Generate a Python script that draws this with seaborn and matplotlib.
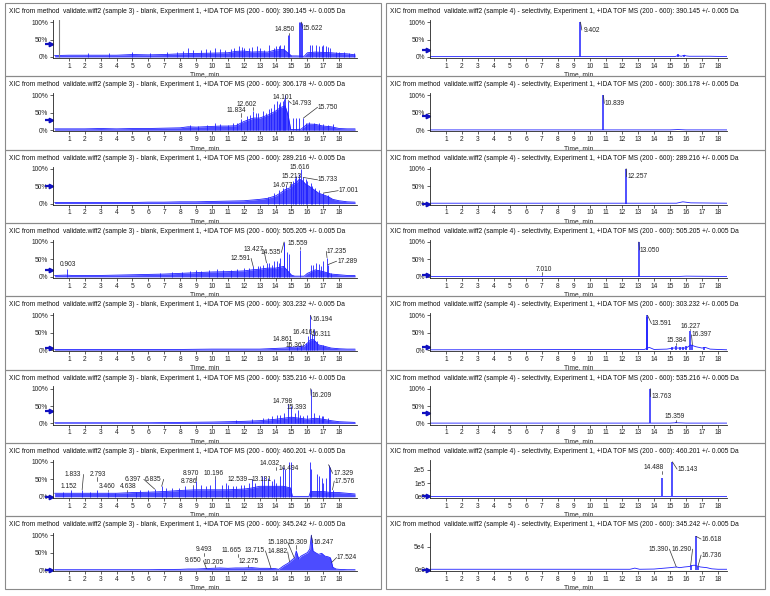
import numpy as np
import matplotlib
matplotlib.use("Agg")
import matplotlib.pyplot as plt
import seaborn as sns
from matplotlib.patches import Rectangle

# m/z of each extracted ion, one per row (same for both samples)
MZ = ["390.145", "306.178", "289.216", "505.205", "303.232", "535.216", "460.201", "345.242"]
TITLE = [
    "XIC from method  validate.wiff2 (sample 3) - blank, Experiment 1, +IDA TOF MS (200 - 600): {mz} +/- 0.005 Da",
    "XIC from method  validate.wiff2 (sample 4) - selectivity, Experiment 1, +IDA TOF MS (200 - 600): {mz} +/- 0.005 Da",
]

# ---- traces: baseline knots (time, intensity) ----
BASE_T = {
    "L1": [0.1, 1, 2, 3, 4, 5, 6, 7, 8, 9, 10, 11, 11.5, 12, 12.5, 13, 13.5, 14, 14.5, 15, 15.3, 15.8, 16, 16.5, 17, 17.5, 18, 18.5, 19],
    "L2": [0.1, 1, 2, 3, 4, 5, 6, 7, 8, 8.5, 9, 9.5, 10, 10.5, 11, 11.5, 12, 12.3, 12.6, 13, 13.3, 13.6, 14, 14.3, 14.6, 14.8, 14.95, 15.2, 15.6, 16, 16.5, 17, 17.5, 18, 18.5, 19],
    "L3": [0.1, 1, 2, 3, 4, 5, 6, 7, 8, 9, 10, 11, 12, 12.5, 13, 13.5, 14, 14.3, 14.6, 14.9, 15.1, 15.3, 15.5, 15.7, 15.9, 16.1, 16.4, 16.7, 17, 17.3, 17.6, 18, 18.5, 19],
    "L4": [0.1, 0.8, 1.2, 2, 3, 4, 5, 6, 7, 8, 9, 9.5, 10, 11, 12, 12.5, 13, 13.5, 14, 14.5, 15, 15.2, 15.8, 16.0, 16.5, 17, 17.5, 18, 18.5, 19],
    "L5": [0.1, 2, 4, 6, 8, 10, 12, 13, 13.5, 14, 14.5, 15, 15.5, 15.8, 16.0, 16.2, 16.4, 16.7, 17, 17.5, 18, 18.5, 19],
    "L6": [0.1, 2, 4, 6, 8, 10, 11, 12, 13, 13.5, 14, 14.5, 15, 15.5, 16, 16.5, 17, 17.5, 18, 18.5, 19],
    "L7": [0.1, 1, 2, 3, 4, 5, 6, 7, 8, 9, 10, 11, 12, 12.5, 13, 13.5, 14, 14.5, 14.95, 15.05, 16.1, 16.2, 17, 17.5, 18, 18.5, 19],
    "L8": [0.1, 2, 4, 6, 8, 8.5, 9, 9.5, 10, 10.5, 11, 11.5, 12, 12.5, 13, 13.5, 14, 14.2, 14.5, 14.8, 15, 15.2, 15.3, 15.45, 15.6, 15.8, 16, 16.15, 16.25, 16.35, 16.5, 16.7, 16.9, 17.1, 17.3, 17.45, 17.6, 17.8, 18, 18.5, 19],
    "R1": [0, 9.3, 9.5, 15.3, 15.5, 15.7, 15.9, 16.0, 16.2, 17.5, 18.6],
    "R2": [0, 10.7, 11.0, 15.0, 15.5, 16.0, 18.6],
    "R3": [0, 12.1, 12.4, 15.4, 15.8, 16.3, 18.6],
    "R4": [0, 12.9, 13.2, 15.5, 16.0, 18.6],
    "R5": [0, 13.4, 13.7, 14.0, 14.8, 15.2, 16.0, 16.3, 16.6, 17.0, 17.2, 17.5, 18.0, 18.6],
    "R6": [0, 13.6, 13.9, 15.0, 15.4, 16.0, 18.6],
    "R7": [0, 14.4, 14.6, 15.0, 15.3, 18.6],
    "R8": [0, 12.5, 12.8, 13.1, 14.0, 14.5, 15.0, 15.4, 15.6, 15.9, 16.2, 16.5, 16.9, 17.3, 17.6, 18.0, 18.6],
}
BASE_Y = {
    "L1": [0.04, 0.05, 0.05, 0.05, 0.05, 0.07, 0.06, 0.07, 0.09, 0.10, 0.11, 0.12, 0.16, 0.17, 0.14, 0.15, 0.14, 0.20, 0.22, 0.03, 0.03, 0.02, 0.12, 0.14, 0.13, 0.12, 0.10, 0.09, 0.06],
    "L2": [0.04, 0.04, 0.04, 0.05, 0.04, 0.05, 0.05, 0.06, 0.07, 0.10, 0.09, 0.10, 0.11, 0.12, 0.12, 0.13, 0.25, 0.30, 0.35, 0.35, 0.40, 0.45, 0.55, 0.65, 0.70, 0.40, 0.02, 0.02, 0.03, 0.18, 0.17, 0.12, 0.10, 0.05, 0.04, 0.04],
    "L3": [0.03, 0.03, 0.03, 0.03, 0.03, 0.03, 0.04, 0.04, 0.05, 0.05, 0.06, 0.07, 0.08, 0.10, 0.12, 0.15, 0.22, 0.30, 0.40, 0.45, 0.55, 0.60, 0.70, 0.65, 0.55, 0.50, 0.40, 0.30, 0.25, 0.20, 0.12, 0.08, 0.05, 0.04],
    "L4": [0.04, 0.05, 0.04, 0.04, 0.04, 0.05, 0.06, 0.07, 0.08, 0.10, 0.12, 0.13, 0.14, 0.15, 0.17, 0.20, 0.22, 0.25, 0.25, 0.30, 0.05, 0.02, 0.02, 0.10, 0.20, 0.15, 0.08, 0.06, 0.04, 0.04],
    "L5": [0.02, 0.02, 0.02, 0.02, 0.02, 0.03, 0.03, 0.03, 0.04, 0.05, 0.06, 0.08, 0.10, 0.12, 0.20, 0.30, 0.30, 0.15, 0.12, 0.06, 0.04, 0.03, 0.03],
    "L6": [0.02, 0.02, 0.02, 0.02, 0.03, 0.04, 0.05, 0.06, 0.08, 0.10, 0.12, 0.15, 0.18, 0.15, 0.12, 0.15, 0.12, 0.08, 0.05, 0.04, 0.03],
    "L7": [0.10, 0.10, 0.10, 0.10, 0.10, 0.12, 0.13, 0.15, 0.18, 0.20, 0.20, 0.20, 0.22, 0.25, 0.30, 0.30, 0.30, 0.30, 0.25, 0.01, 0.01, 0.15, 0.15, 0.12, 0.12, 0.10, 0.08],
    "L8": [0.01, 0.01, 0.01, 0.01, 0.02, 0.03, 0.03, 0.04, 0.05, 0.06, 0.05, 0.06, 0.06, 0.07, 0.05, 0.05, 0.04, 0.02, 0.12, 0.20, 0.28, 0.35, 0.55, 0.32, 0.40, 0.45, 0.50, 0.60, 1.00, 0.55, 0.50, 0.45, 0.48, 0.40, 0.38, 0.35, 0.08, 0.03, 0.02, 0.01, 0.01],
    "R1": [0.01, 0.01, 0.01, 0.01, 0.04, 0.02, 0.05, 0.03, 0.02, 0.02, 0.01],
    "R2": [0.01, 0.01, 0.01, 0.01, 0.02, 0.01, 0.01],
    "R3": [0.01, 0.01, 0.01, 0.01, 0.05, 0.02, 0.01],
    "R4": [0.01, 0.01, 0.01, 0.01, 0.02, 0.01],
    "R5": [0.01, 0.02, 0.08, 0.02, 0.03, 0.06, 0.06, 0.15, 0.10, 0.06, 0.08, 0.03, 0.02, 0.01],
    "R6": [0.01, 0.01, 0.01, 0.01, 0.02, 0.01, 0.01],
    "R7": [0.01, 0.01, 0.01, 0.01, 0.01, 0.01],
    "R8": [0.1, 0.1, 0.35, 0.1, 0.15, 0.3, 0.45, 0.6, 0.45, 0.6, 0.7, 1.0, 0.6, 0.45, 0.2, 0.1, 0.1],
}

# ---- narrow peaks / noise spikes (time, height) ----
SPIKE_T = {
    "L1": [2.2, 3.5, 5.0, 6.1, 7.2, 7.8, 8.2, 8.5, 8.8, 9.3, 9.6, 9.9, 10.2, 10.5, 10.8, 11.2, 11.4, 11.7, 11.9, 12.0, 12.3, 12.5, 12.8, 13.0, 13.3, 13.6, 13.9, 14.0, 14.2, 14.3, 14.55,
           14.75, 14.85, 15.45, 15.52, 15.6, 15.68, 16.15, 16.3, 16.55, 16.75, 16.9, 17.0, 17.2, 17.3, 17.45, 17.8, 18.0, 18.3, 18.6, 18.9],
    "L2": [8.6, 9.1, 9.7, 10.2, 10.5, 11.0, 11.3, 11.6, 11.83, 12.2, 12.4, 12.6, 12.75, 12.9, 13.2, 13.4, 13.6, 13.7, 13.9, 14.1, 14.2, 14.3, 14.45, 14.5, 14.6, 14.79,
           15.1, 15.3, 15.5, 15.75, 15.9, 16.1, 16.4, 16.7, 17.0, 17.3, 17.6],
    "L3": [13.5, 13.9, 14.2, 14.45, 14.68, 15.0, 15.1, 15.21, 15.3, 15.45, 15.62, 15.73, 15.9, 16.0, 16.2, 16.3, 16.5, 16.7, 17.0, 17.3],
    "L4": [0.9, 6.7, 7.5, 8.1, 8.6, 9.0, 9.3, 9.8, 10.3, 10.7, 11.2, 11.6, 12.0, 12.3, 12.59, 12.9, 13.0, 13.2, 13.43, 13.6, 13.75, 13.9, 14.1, 14.2, 14.3, 14.5, 14.54, 14.7, 14.85,
           15.56, 16.2, 16.35, 16.55, 16.7, 16.85, 17.0, 17.24, 17.29, 17.5],
    "L5": [14.86, 15.37, 15.6, 15.9, 16.05, 16.19, 16.31, 16.42, 16.6, 17.0],
    "L6": [11.5, 12.5, 13.2, 13.5, 13.8, 14.1, 14.3, 14.5, 14.8, 15.0, 15.2, 15.39, 15.55, 15.7, 16.0, 16.21, 16.4, 16.7, 16.9, 17.0, 17.3],
    "L7": [0.6, 1.15, 1.83, 2.3, 2.79, 3.46, 3.9, 4.64, 5.2, 5.5, 6.0, 6.4, 6.84, 7.1, 7.5, 7.9, 8.3, 8.79, 8.97, 9.3, 9.6, 9.9, 10.2, 10.6, 10.9, 11.0, 11.3, 11.5, 11.8, 12.0,
           12.3, 12.54, 12.7, 13.13, 13.3, 13.5, 13.8, 13.9, 14.03, 14.3, 14.49, 14.6, 14.85, 14.95, 16.15, 16.25, 16.6, 16.75, 16.9, 17.0, 17.15, 17.33, 17.4, 17.58],
    "L8": [],
    "R1": [9.40, 15.5, 15.9],
    "R2": [10.84],
    "R3": [12.26],
    "R4": [7.01, 13.05],
    "R5": [13.55, 13.59, 15.1, 15.38, 15.6, 15.8, 16.0, 16.23, 16.4, 17.1],
    "R6": [13.76, 15.36],
    "R7": [14.49, 15.14],
    "R8": [16.29, 16.62, 16.74],
}
SPIKE_H = {
    "L1": [0.1, 0.1, 0.13, 0.12, 0.14, 0.15, 0.18, 0.25, 0.2, 0.2, 0.22, 0.2, 0.25, 0.22, 0.2, 0.22, 0.25, 0.3, 0.28, 0.25, 0.25, 0.28, 0.3, 0.25, 0.2, 0.35, 0.25, 0.3, 0.3, 0.35, 0.35,
           0.62, 0.62, 1.0, 1.0, 1.0, 0.98, 0.35, 0.33, 0.35, 0.32, 0.3, 0.33, 0.3, 0.28, 0.25, 0.15, 0.15, 0.15, 0.12, 0.12],
    "L2": [0.15, 0.12, 0.15, 0.2, 0.18, 0.15, 0.2, 0.22, 0.32, 0.4, 0.45, 0.55, 0.5, 0.5, 0.55, 0.5, 0.6, 0.65, 0.75, 0.85, 0.75, 0.8, 0.85, 0.9, 1.0, 0.85,
           0.35, 0.35, 0.35, 0.35, 0.2, 0.25, 0.22, 0.2, 0.18, 0.15, 0.18],
    "L3": [0.2, 0.3, 0.4, 0.45, 0.5, 0.6, 0.65, 0.72, 0.8, 0.85, 1.0, 0.75, 0.7, 0.65, 0.6, 0.5, 0.45, 0.4, 0.3, 0.25],
    "L4": [0.22, 0.12, 0.14, 0.15, 0.18, 0.2, 0.18, 0.2, 0.22, 0.2, 0.2, 0.22, 0.25, 0.25, 0.3, 0.3, 0.3, 0.35, 0.4, 0.4, 0.35, 0.45, 0.45, 0.4, 0.55, 0.95, 1.0, 0.7, 0.65,
           0.78, 0.33, 0.33, 0.4, 0.38, 0.3, 0.45, 0.55, 0.35, 0.12],
    "L5": [0.12, 0.1, 0.15, 0.2, 0.4, 1.0, 0.45, 0.6, 0.25, 0.15],
    "L6": [0.1, 0.12, 0.15, 0.15, 0.2, 0.25, 0.25, 0.3, 0.55, 0.5, 0.3, 0.4, 0.25, 0.2, 0.25, 1.0, 0.3, 0.25, 0.2, 0.2, 0.15],
    "L7": [0.15, 0.2, 0.2, 0.15, 0.2, 0.15, 0.12, 0.12, 0.15, 0.18, 0.2, 0.22, 0.3, 0.25, 0.25, 0.25, 0.3, 0.3, 0.45, 0.35, 0.3, 0.35, 0.5, 0.35, 0.4, 0.35, 0.3, 0.3, 0.35, 0.35,
           0.4, 0.5, 0.4, 0.6, 0.6, 0.55, 0.45, 0.5, 0.4, 0.6, 0.85, 0.8, 1.0, 1.0, 1.0, 0.8, 0.65, 0.6, 0.55, 0.4, 0.55, 0.92, 0.85, 0.2],
    "L8": [],
    "R1": [1.0, 0.08, 0.06],
    "R2": [1.0],
    "R3": [1.0],
    "R4": [0.02, 1.0],
    "R5": [0.95, 1.0, 0.08, 0.12, 0.1, 0.1, 0.12, 0.55, 0.15, 0.08],
    "R6": [1.0, 0.03],
    "R7": [1.4, 2.6],      # x 1e5 counts
    "R8": [1.0, 7.3, 0.6],  # x 1e4 counts
}

# ---- labelled retention times ----
LABEL_RT = {
    "L1": [14.850, 15.622],
    "L2": [11.834, 12.602, 14.101, 14.793, 15.750],
    "L3": [14.677, 15.213, 15.616, 15.733, 17.001],
    "L4": [0.903, 12.591, 13.427, 14.535, 15.559, 17.235, 17.289],
    "L5": [14.861, 15.367, 16.416, 16.311, 16.194],
    "L6": [14.798, 15.393, 16.209],
    "L7": [1.152, 1.833, 2.793, 3.460, 4.638, 6.397, 6.835, 8.786, 8.970, 10.196, 12.539, 13.131, 14.032, 14.494, 17.329, 17.576],
    "L8": [9.493, 9.650, 10.205, 11.665, 12.275, 13.715, 14.882, 15.180, 15.309, 16.247, 17.524],
    "R1": [9.402],
    "R2": [10.839],
    "R3": [12.257],
    "R4": [7.010, 13.050],
    "R5": [13.591, 15.384, 16.227, 16.397],
    "R6": [13.763, 15.359],
    "R7": [14.488, 15.143],
    "R8": [15.390, 16.290, 16.618, 16.736],
}

# ---- styling / placement ----
LABEL_XY = {
    "L1": [(14.55, 0.78), (16.35, 0.82)],
    "L2": [(11.5, 0.57), (12.2, 0.74), (14.45, 0.94), (15.65, 0.77), (17.3, 0.66)],
    "L3": [(14.45, 0.52), (15.0, 0.78), (15.5, 1.02), (17.3, 0.68), (18.6, 0.37)],
    "L4": [(0.97, 0.35), (11.8, 0.53), (12.6, 0.78), (13.7, 0.7), (15.4, 0.95), (17.85, 0.73), (18.5, 0.45)],
    "L5": [(14.45, 0.3), (15.25, 0.13), (15.7, 0.5), (16.9, 0.45), (16.95, 0.88)],
    "L6": [(14.45, 0.62), (15.35, 0.45), (16.9, 0.8)],
    "L7": [(1.0, 0.29), (1.26, 0.64), (2.8, 0.64), (3.4, 0.29), (4.7, 0.29), (5.05, 0.5), (6.3, 0.5), (8.55, 0.43), (8.7, 0.67), (10.1, 0.67), (11.6, 0.5), (13.1, 0.5), (13.65, 0.94), (14.8, 0.8), (18.25, 0.67), (18.35, 0.45)],
    "L8": [(9.5, 0.59), (8.8, 0.27), (10.1, 0.22), (11.25, 0.55), (12.3, 0.24), (12.7, 0.55), (14.1, 0.52), (14.1, 0.8), (15.4, 0.8), (17.0, 0.78), (18.5, 0.36)],
    "R1": [(10.15, 0.77)],
    "R2": [(11.55, 0.77)],
    "R3": [(12.95, 0.77)],
    "R4": [(7.1, 0.22), (13.75, 0.77)],
    "R5": [(14.5, 0.76), (15.4, 0.28), (16.3, 0.68), (17.0, 0.44)],
    "R6": [(14.45, 0.77), (15.3, 0.2)],
    "R7": [(14.0, 2.15), (16.1, 2.05)],
    "R8": [(14.3, 4.5), (15.75, 4.5), (17.6, 6.7), (17.6, 3.2)],
}
ARROW_Y = {
    "L1": 0.37, "L2": 0.3, "L3": 0.5, "L4": 0.2, "L5": 0.05, "L6": 0.35, "L7": 0.0, "L8": 0.0,
    "R1": 0.2, "R2": 0.4, "R3": 0.0, "R4": 0.05, "R5": 0.1, "R6": 0.3, "R7": 0.0, "R8": 0.0,
}
YLIM = {"R7": (-0.1, 2.75), "R8": (-0.3, 8.0)}
YTICKS = {"R7": ([0, 1, 2], ["0e0", "1e5", "2e5"]), "R8": ([0, 5], ["0e0", "5e4"])}
PCT_TICKS = ([0, 0.5, 1.0], ["0%", "50%", "100%"])

W, H = 770, 596
BLUE = "#1f1fff"
FRAME = "#8a8a8a"
FS = 4.8
ROW0, ROW_H = 3.0, 73.3
PANEL_X = [(5, 376), (386, 379)]
AX_X = [53, 430]
AX_W = [304, 297]
XMAX = [19.12, 18.56]

sns.set_theme(style="ticks")
plt.rcParams["font.family"] = ["Liberation Sans", "DejaVu Sans"]


def peak_height(key, rt):
    st = np.asarray(SPIKE_T[key], dtype=float)
    sh = np.asarray(SPIKE_H[key], dtype=float)
    if len(st):
        i = int(np.argmin(np.abs(st - rt)))
        if abs(st[i] - rt) < 0.12:
            return sh[i]
    return float(np.interp(rt, BASE_T[key], BASE_Y[key]))


fig = plt.figure(figsize=(W / 100, H / 100), dpi=100)

for col, side in enumerate(["L", "R"]):
    for row in range(8):
        key = f"{side}{row + 1}"
        top = ROW0 + row * ROW_H
        px_left, px_w = PANEL_X[col]
        fig.patches.append(Rectangle((px_left / W, 1 - (top + ROW_H) / H), px_w / W, ROW_H / H,
                                     transform=fig.transFigure, fill=False, ec=FRAME, lw=0.8))
        fig.text((px_left + 4) / W, 1 - (top + 8.5) / H, TITLE[col].format(mz=MZ[row]),
                 fontsize=4.75, va="center", ha="left", color="#111111")

        ax = fig.add_axes([AX_X[col] / W, 1 - (top + 55) / H, AX_W[col] / W, 38 / H])
        ylo, yhi = YLIM.get(key, (-0.03, 1.06))
        span = yhi - ylo

        t = np.asarray(BASE_T[key], dtype=float)
        y = np.asarray(BASE_Y[key], dtype=float)
        if side == "L":
            ax.fill_between(t, 0, y, color=BLUE, alpha=0.8, lw=0)
        sns.lineplot(x=t, y=y, ax=ax, color=BLUE, lw=0.6, legend=False)
        if SPIKE_T[key]:
            ax.vlines(SPIKE_T[key], 0, SPIKE_H[key], color=BLUE, lw=0.6 if side == "L" else 1.1)
        if key == "L1":
            ax.vlines([0.4], 0, 1.08, color="#808080", lw=0.8)

        # peak labels with leader lines
        for rt, (tx, ty) in zip(LABEL_RT[key], LABEL_XY[key]):
            ax.text(tx, ty, f"{rt:.3f}", fontsize=FS, ha="center", va="center", color="#222222")
            h = peak_height(key, rt)
            if abs(tx - rt) < 0.5:
                y1 = ty - 0.08 * span
                y0 = max(h + 0.02 * span, y1 - 0.09 * span)
                if y1 > y0:
                    ax.plot([rt, rt], [y0, y1], color="#333333", lw=0.5)
            else:
                ex = tx - 0.66 if tx > rt else tx + 0.66
                ax.plot([rt, ex], [h, ty], color="#333333", lw=0.5)

        # current-cursor arrow left of the y axis
        ay = ARROW_Y[key]
        ax.plot([-0.48, -0.22], [ay, ay], color="#1010c0", lw=1.6, clip_on=False, solid_capstyle="butt")
        ax.plot([-0.14], [ay], marker=">", ms=3.2, color="#1010c0", clip_on=False)

        ax.set_xlim(0, XMAX[col])
        ax.set_ylim(ylo, yhi)
        ax.set_xticks(range(1, 19))
        ax.set_xticklabels([str(i) for i in range(1, 19)], fontsize=FS)
        ticks, labs = YTICKS.get(key, PCT_TICKS)
        ax.set_yticks(ticks)
        ax.set_yticklabels(labs, fontsize=FS)
        ax.tick_params(axis="both", length=2, width=0.5, pad=1.5, colors="#222222")
        ax.set_xlabel("Time, min", fontsize=FS, labelpad=1.0)
        ax.set_ylabel("")
        sns.despine(ax=ax)
        for sp in ("left", "bottom"):
            ax.spines[sp].set_linewidth(0.6)
            ax.spines[sp].set_color("#222222")
        ax.patch.set_alpha(0)

fig.savefig("out.png", dpi=100, facecolor="white")
